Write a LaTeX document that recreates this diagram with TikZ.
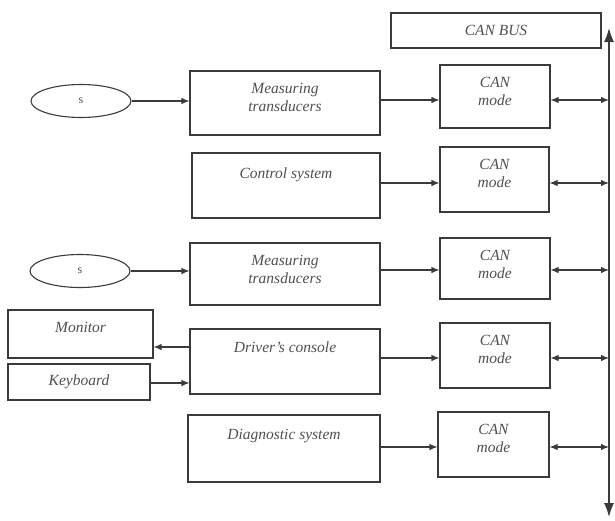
\documentclass[tikz,border=0pt]{standalone}
\usepackage{fontspec}
\setmainfont{Liberation Serif}
\usetikzlibrary{arrows.meta,shapes.geometric}
\definecolor{ink}{HTML}{3A3A3A}
\definecolor{txt}{HTML}{505050}
\begin{document}
\begin{tikzpicture}[x=1pt,y=-1pt,
  box/.style={draw=ink, line width=1.1pt, inner sep=0pt},
  thickbox/.style={box, line width=1.8pt},
  oval/.style={draw=ink, line width=1.1pt, ellipse, inner sep=0pt, minimum width=100pt, minimum height=33pt, font=\fontsize{12}{14}\selectfont\color{txt}},
  tfont/.style={font=\fontsize{15.5}{17.5}\selectfont\itshape\color{txt}},
  lab/.style={tfont, anchor=north, inner sep=0pt, yshift=-13pt, align=center},
  conn/.style={draw=ink, line width=1.1pt, -{Latex[length=8pt,width=6.5pt]}},
  dconn/.style={draw=ink, line width=1.1pt, {Latex[length=8pt,width=6.5pt]}-{Latex[length=8pt,width=6.5pt]}},
  bus/.style={draw=ink, line width=1.4pt, {Latex[length=14pt,width=10pt]}-{Latex[length=14pt,width=10pt]}}
]
\useasboundingbox (0,0) rectangle (615,520);
% CAN BUS
\node[box, tfont, minimum width=210pt, minimum height=35pt] (canbus) at (496,30.5) {CAN BUS};
\coordinate (bt) at (609,28);
\coordinate (bb) at (609,517);
\draw[bus] (bt) -- (bb);
% Row 1
\node[oval] (e1) at (81,101) {s};
\node[box, minimum width=190pt, minimum height=64pt, label={[lab]north:{Measuring\\transducers}}] (mt1) at (285,103) {};
\node[box, minimum width=110pt, minimum height=63pt, label={[lab]north:{CAN\\mode}}] (can1) at (495,96.5) {};
\draw[conn] (e1.east) -- (e1.east -| mt1.west);
\draw[conn] (mt1.east |- 0,100) -- (can1.west |- 0,100);
\draw[dconn] (can1.east |- 0,100) -- (bt |- 0,100);
% Row 2
\node[box, minimum width=188pt, minimum height=65pt, label={[lab, yshift=-2pt]north:{Control system}}] (cs) at (286,185.5) {};
\node[box, minimum width=109pt, minimum height=65pt, label={[lab]north:{CAN\\mode}}] (can2) at (494.5,179.5) {};
\draw[conn] (cs.east |- 0,183) -- (can2.west |- 0,183);
\draw[dconn] (can2.east |- 0,183) -- (bt |- 0,183);
% Row 3
\node[oval] (e2) at (80,271) {s};
\node[box, minimum width=190pt, minimum height=62pt, label={[lab]north:{Measuring\\transducers}}] (mt2) at (285,274) {};
\node[box, minimum width=110pt, minimum height=61pt, label={[lab]north:{CAN\\mode}}] (can3) at (495,268.5) {};
\draw[conn] (e2.east) -- (e2.east -| mt2.west);
\draw[conn] (mt2.east |- 0,270) -- (can3.west |- 0,270);
\draw[dconn] (can3.east |- 0,270) -- (bt |- 0,270);
% Row 4
\node[box, minimum width=145pt, minimum height=48pt, label={[lab, yshift=0pt]north:{Monitor}}] (mon) at (80.5,334) {};
\node[box, tfont, minimum width=142pt, minimum height=36pt] (kb) at (79,382) {Keyboard};
\node[box, minimum width=190pt, minimum height=65pt, label={[lab]north:{Driver’s console}}] (dc) at (285,361.5) {};
\node[box, minimum width=110pt, minimum height=65pt, label={[lab]north:{CAN\\mode}}] (can4) at (495,355.5) {};
\draw[conn] (dc.west |- 0,347) -- (mon.east |- 0,347);
\draw[conn] (kb.east |- 0,383) -- (dc.west |- 0,383);
\draw[conn] (dc.east |- 0,358) -- (can4.west |- 0,358);
\draw[dconn] (can4.east |- 0,358) -- (bt |- 0,358);
% Row 5
\node[thickbox, minimum width=192pt, minimum height=67pt, label={[lab, yshift=-2pt]north:{Diagnostic system}}] (ds) at (284,448.5) {};
\node[box, minimum width=111pt, minimum height=65pt, label={[lab]north:{CAN\\mode}}] (can5) at (493.5,444.5) {};
\draw[conn] (ds.east |- 0,447) -- (can5.west |- 0,447);
\draw[dconn] (can5.east |- 0,447) -- (bt |- 0,447);
\end{tikzpicture}
\end{document}
